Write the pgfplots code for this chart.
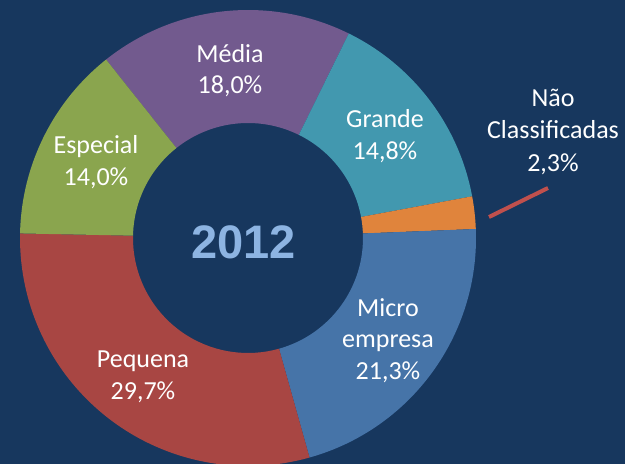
\documentclass[border=0pt]{standalone}
\usepackage{fontspec}
\setmainfont{Carlito}
\newfontfamily\yearfont{Liberation Sans}
\usepackage{pgfplots}
\usepackage{pgfplotstable}
\pgfplotsset{compat=1.18}

\definecolor{bgnavy}{RGB}{23,55,94}
\definecolor{cMedia}{RGB}{114,90,142}
\definecolor{cGrande}{RGB}{66,152,175}
\definecolor{cNao}{RGB}{224,132,60}
\definecolor{cMicro}{RGB}{70,116,168}
\definecolor{cPequena}{RGB}{168,70,67}
\definecolor{cEspecial}{RGB}{138,165,78}
\definecolor{yearblue}{RGB}{141,180,226}
\definecolor{leader}{RGB}{192,80,77}

\tikzset{lbl/.style={text=white, anchor=base, inner sep=0pt,
    font=\fontsize{26}{32}\selectfont}}

% shares in percent, clockwise from the top-left
\pgfplotstableread{
name     val   col
Media    18.0  cMedia
Grande   14.8  cGrande
Nao      2.3   cNao
Micro    21.3  cMicro
Pequena  29.7  cPequena
Especial 14.0  cEspecial
}\slices

\begin{document}
\begin{tikzpicture}
\fill[bgnavy] (0,0) rectangle (625pt,464pt);
\begin{axis}[
  at={(0pt,0pt)}, anchor=origin,
  hide axis, scale only axis,
  x=1pt, y=1pt,
  xmin=0, xmax=625, ymin=0, ymax=464,
  enlargelimits=false,
]
\def\cum{128.5}
\pgfplotsforeachungrouped \i in {0,...,5}{%
  \pgfplotstablegetelem{\i}{val}\of\slices \let\v=\pgfplotsretval
  \pgfplotstablegetelem{\i}{col}\of\slices \let\c=\pgfplotsretval
  \pgfmathsetmacro\a{\cum}%
  \pgfmathsetmacro\b{\cum-\v*360/100.1}%
  \edef\temp{\noexpand\fill[\c] (axis cs:248,226) ++(\a:228pt)
    arc[start angle=\a, end angle=\b, radius=228pt] -- ++(\b:-113pt)
    arc[start angle=\b, end angle=\a, radius=115pt] -- cycle;}%
  \temp
  \let\cum\b
}

\draw[leader, line width=4pt] (axis cs:489,247) -- (axis cs:548,276);

\node[lbl] at (axis cs:230,401) {Média};
\node[lbl] at (axis cs:230,370) {18,0\%};
\node[lbl] at (axis cs:385,336) {Grande};
\node[lbl] at (axis cs:385,304) {14,8\%};
\node[lbl] at (axis cs:96,310) {Especial};
\node[lbl] at (axis cs:96,278) {14,0\%};
\node[lbl] at (axis cs:388,147) {Micro};
\node[lbl] at (axis cs:388,116) {empresa};
\node[lbl] at (axis cs:388,84) {21,3\%};
\node[lbl] at (axis cs:143,96) {Pequena};
\node[lbl] at (axis cs:143,64) {29,7\%};
\node[lbl] at (axis cs:553,357) {Não};
\node[lbl] at (axis cs:553,325) {Classificadas};
\node[lbl] at (axis cs:553,292) {2,3\%};
\node[text=yearblue, anchor=base, inner sep=0pt,
  font=\yearfont\bfseries\fontsize{47}{50}\selectfont] at (axis cs:243.5,205) {2012};
\end{axis}
\pgfresetboundingbox
\path (0,0) rectangle (625pt,464pt);
\end{tikzpicture}
\end{document}
